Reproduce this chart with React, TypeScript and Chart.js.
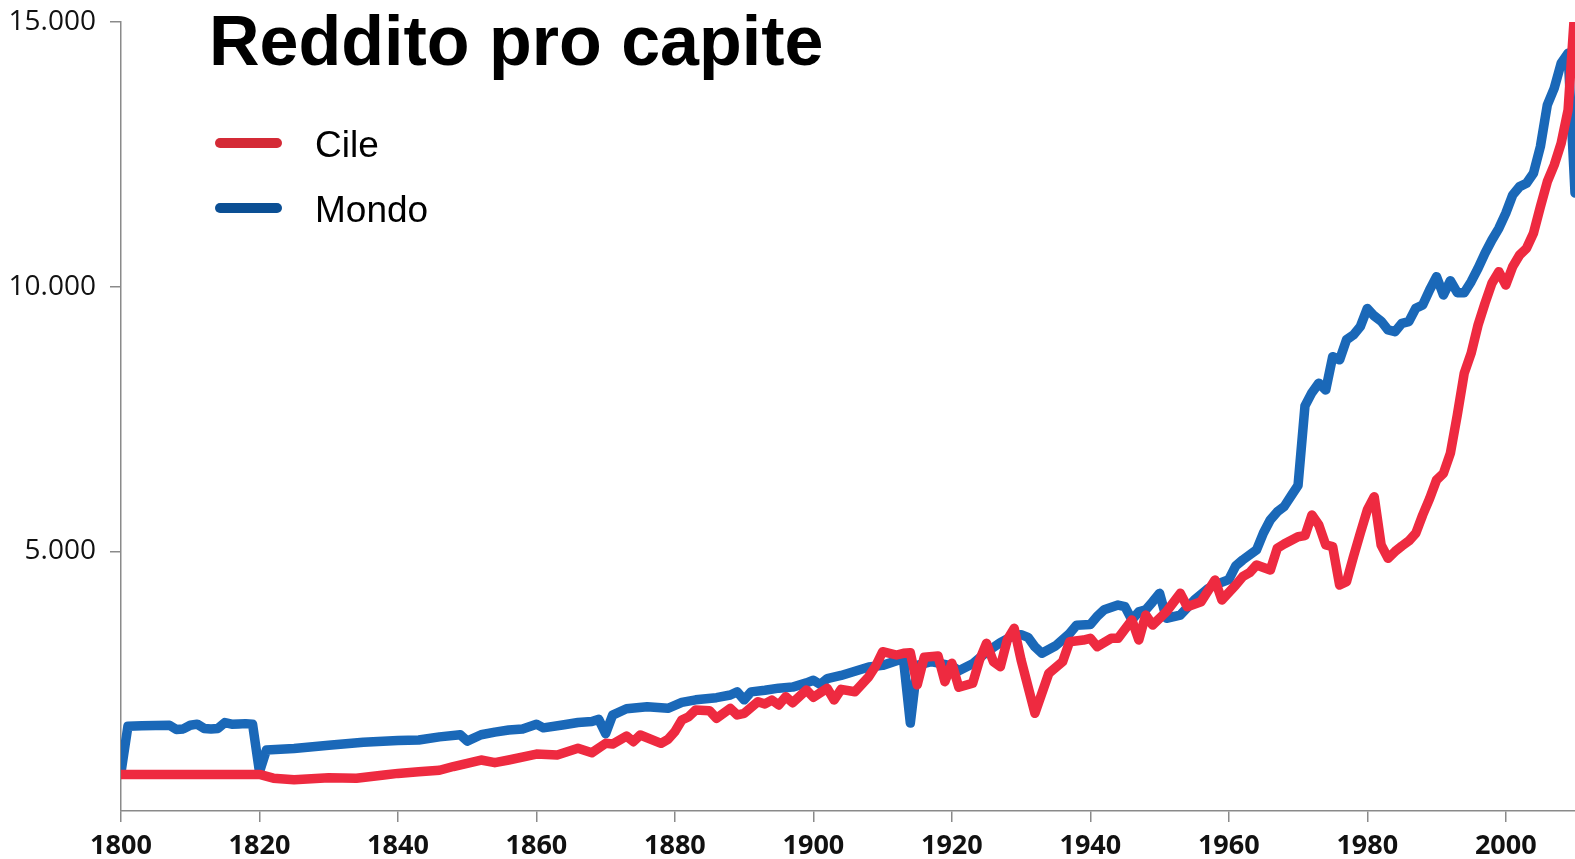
import React, { useEffect, useRef } from "react";
import { Chart, registerables } from "chart.js";

Chart.register(...registerables);

const TITLE = "Reddito pro capite";
const SERIES_NAMES = ["Cile", "Mondo"];

const X_TICKS = [1800, 1820, 1840, 1860, 1880, 1900, 1920, 1940, 1960, 1980, 2000];
const Y_TICKS = [5000, 10000, 15000];

const CILE_YEARS = [
  1800, 1820, 1822, 1825, 1830, 1834, 1838, 1840, 1843, 1846, 1848, 1852, 1854, 1856, 1860,
  1863, 1866, 1868, 1870, 1871, 1873, 1874, 1875, 1878, 1879, 1880, 1881, 1882, 1883, 1885,
  1886, 1888, 1889, 1890, 1892, 1893, 1894, 1895, 1896, 1897, 1899, 1900, 1902, 1903, 1904,
  1906, 1908, 1909, 1910, 1912, 1913, 1914, 1915, 1916, 1918, 1919, 1920, 1921, 1923, 1924,
  1925, 1926, 1927, 1928, 1929, 1930, 1932, 1934, 1936, 1937, 1939, 1940, 1941, 1943, 1944,
  1946, 1947, 1948, 1949, 1951, 1953, 1954, 1956, 1958, 1959, 1961, 1962, 1963, 1964, 1966,
  1967, 1968, 1970, 1971, 1972, 1973, 1974, 1975, 1976, 1977, 1978, 1979, 1980, 1981, 1982,
  1983, 1984, 1985, 1986, 1987, 1988, 1989, 1990, 1991, 1992, 1993, 1994, 1995, 1996, 1997,
  1998, 1999, 2000, 2001, 2002, 2003, 2004, 2005, 2006, 2007, 2008, 2009, 2010,
];
const CILE_VALUES = [
  790, 790, 720, 690, 730, 720, 780, 810, 840, 870, 940, 1063, 1012, 1063, 1176,
  1158, 1284, 1201, 1378, 1365, 1516, 1409, 1535, 1378, 1454, 1600, 1819, 1881, 2007, 1994,
  1851, 2039, 1913, 1945, 2164, 2121, 2196, 2102, 2259, 2145, 2385, 2247, 2417, 2196, 2398,
  2353, 2637, 2838, 3108, 3046, 3078, 3090, 2480, 3003, 3027, 2542, 2889, 2436, 2512, 2952,
  3267, 2920, 2825, 3329, 3550, 2952, 1945, 2700, 2920, 3297, 3329, 3361, 3203, 3361, 3361,
  3707, 3329, 3801, 3613, 3864, 4211, 3958, 4053, 4462, 4085, 4368, 4525, 4600, 4746, 4651,
  5061, 5142, 5280, 5300, 5690, 5501, 5124, 5093, 4368, 4430, 4900, 5350, 5784, 6036, 5124,
  4872, 5000, 5105, 5200, 5344, 5690, 6000, 6351, 6477, 6855, 7578, 8366, 8744, 9278, 9688,
  10066, 10285, 10034, 10380, 10600, 10726, 11010, 11512, 11985, 12300, 12710, 13338, 15300,
];

const MONDO_YEARS = [
  1800, 1801, 1803, 1805, 1807, 1808, 1809, 1810, 1811, 1812, 1813, 1814, 1815, 1816, 1817,
  1818, 1819, 1820, 1821, 1825, 1830, 1835, 1840, 1843, 1846, 1849, 1850, 1852, 1854, 1856,
  1858, 1860, 1861, 1864, 1866, 1868, 1869, 1870, 1871, 1873, 1876, 1879, 1881, 1883, 1886,
  1888, 1889, 1890, 1891, 1893, 1895, 1897, 1899, 1900, 1901, 1902, 1904, 1906, 1908, 1910,
  1913, 1914, 1915, 1917, 1920, 1921, 1923, 1925, 1927, 1929, 1930, 1931, 1932, 1933, 1935,
  1937, 1938, 1940, 1941, 1942, 1944, 1945, 1946, 1947, 1948, 1949, 1950, 1951, 1953, 1955,
  1957, 1958, 1960, 1961, 1962, 1964, 1965, 1966, 1967, 1968, 1969, 1970, 1971, 1972, 1973,
  1974, 1975, 1976, 1977, 1978, 1979, 1980, 1981, 1982, 1983, 1984, 1985, 1986, 1987, 1988,
  1989, 1990, 1991, 1992, 1993, 1994, 1995, 1996, 1997, 1998, 1999, 2000, 2001, 2002, 2003,
  2004, 2005, 2006, 2007, 2008, 2009, 2010,
];
const MONDO_VALUES = [
  830, 1700, 1710, 1715, 1720, 1640, 1650, 1720, 1740, 1660, 1650, 1660, 1770, 1740, 1745,
  1750, 1740, 840, 1250, 1280, 1340, 1400, 1430, 1440, 1500, 1540, 1420, 1540, 1590, 1630,
  1650, 1740, 1670, 1730, 1770, 1790, 1830, 1560, 1910, 2030, 2070, 2040, 2150, 2200, 2240,
  2290, 2350, 2200, 2350, 2380, 2420, 2440, 2520, 2570, 2490, 2600, 2660, 2740, 2820, 2850,
  2980, 1760, 2850, 2920, 2840, 2750, 2880, 3100, 3280, 3420, 3430, 3380, 3200, 3080, 3220,
  3450, 3610, 3620, 3780, 3900, 3990, 3960, 3710, 3860, 3900, 4050, 4210, 3740, 3800, 4080,
  4300, 4370, 4470, 4730, 4840, 5030, 5350, 5600, 5750, 5850, 6050, 6250, 7750, 8000, 8180,
  8050, 8680, 8620, 9000, 9090, 9250, 9590, 9450, 9350, 9184, 9152, 9310, 9342, 9593, 9656,
  9939, 10191, 9845, 10115, 9888, 9888, 10096, 10349, 10632, 10884, 11104, 11388, 11733, 11891, 11954,
  12143, 12646, 13433, 13748, 14220, 14409, 11770,
];

const CILE_COLOR = "#ee2a40";
const MONDO_COLOR = "#1a68b8";
const CILE_LEGEND = "#d42a36";
const MONDO_LEGEND = "#0b4f94";

function pts(xs: number[], ys: number[]) {
  return xs.map((x, i) => ({ x, y: ys[i] }));
}

function fmt(v: number) {
  return String(Math.round(v)).replace(/\B(?=(\d{3})+(?!\d))/g, ".");
}

const overlay = {
  id: "titleLegend",
  afterDraw(chart: any) {
    const ctx = chart.ctx;
    ctx.save();
    ctx.fillStyle = "#000";
    ctx.textBaseline = "alphabetic";
    ctx.textAlign = "left";
    ctx.font = "bold 70px 'Liberation Sans', Arial, sans-serif";
    ctx.fillText(TITLE, 209, 65);
    const legendColors = [CILE_LEGEND, MONDO_LEGEND];
    const rows = [143, 208];
    SERIES_NAMES.forEach((name, i) => {
      ctx.strokeStyle = legendColors[i];
      ctx.lineWidth = 10;
      ctx.lineCap = "round";
      ctx.beginPath();
      ctx.moveTo(220, rows[i]);
      ctx.lineTo(277, rows[i]);
      ctx.stroke();
      ctx.fillStyle = "#000";
      ctx.font = "37px 'Liberation Sans', Arial, sans-serif";
      ctx.fillText(name, 315, rows[i] + 13.5);
    });
    ctx.restore();
  },
};

export default function App() {
  const ref = useRef<HTMLCanvasElement | null>(null);
  useEffect(() => {
    if (!ref.current) return;
    const chart = new Chart(ref.current, {
      type: "line",
      data: {
        datasets: [
          {
            label: SERIES_NAMES[0],
            data: pts(CILE_YEARS, CILE_VALUES),
            borderColor: CILE_COLOR,
            backgroundColor: CILE_COLOR,
            borderWidth: 9.5,
            pointRadius: 0,
            tension: 0,
            borderJoinStyle: "round",
            borderCapStyle: "round",
          },
          {
            label: SERIES_NAMES[1],
            data: pts(MONDO_YEARS, MONDO_VALUES),
            borderColor: MONDO_COLOR,
            backgroundColor: MONDO_COLOR,
            borderWidth: 9.5,
            pointRadius: 0,
            tension: 0,
            borderJoinStyle: "round",
            borderCapStyle: "round",
          },
        ],
      },
      options: {
        animation: false,
        responsive: true,
        maintainAspectRatio: false,
        layout: { padding: { top: 22, right: 0, left: 0, bottom: 0 } },
        plugins: {
          legend: { display: false },
          title: { display: false },
          tooltip: { enabled: false },
        },
        scales: {
          x: {
            type: "linear",
            min: 1800,
            max: 2010,
            afterBuildTicks: (s: any) => {
              s.ticks = X_TICKS.map((v) => ({ value: v }));
            },
            afterFit: (s: any) => {
              s.height = 48;
              s.paddingLeft = 0;
              s.paddingRight = 0;
            },
            border: { display: true, color: "#8a8a8a", width: 1.5 },
            grid: { drawOnChartArea: false, drawTicks: true, tickLength: 11, color: "#8a8a8a", lineWidth: 1.5 },
            ticks: {
              padding: 8,
              color: "#111",
              maxRotation: 0,
              autoSkip: false,
              font: { family: "'Open Sans', sans-serif", size: 27, weight: "bold" },
              callback: (v: any) => String(v),
            },
          },
          y: {
            type: "linear",
            min: 100,
            max: 15000,
            afterBuildTicks: (s: any) => {
              s.ticks = Y_TICKS.map((v) => ({ value: v }));
            },
            afterFit: (s: any) => {
              s.width = 121;
              s.paddingTop = 0;
              s.paddingBottom = 0;
            },
            border: { display: true, color: "#8a8a8a", width: 1.5 },
            grid: { drawOnChartArea: false, drawTicks: true, tickLength: 11, color: "#8a8a8a", lineWidth: 1.5 },
            ticks: {
              padding: 14,
              color: "#111",
              font: { family: "'Open Sans', sans-serif", size: 28 },
              callback: (v: any) => fmt(Number(v)),
            },
          },
        },
      },
      plugins: [overlay],
    } as any);
    return () => chart.destroy();
  }, []);
  return (
    <div style={{ position: "absolute", left: 0, top: 0, width: 1575, height: 859 }}>
      <canvas ref={ref} />
    </div>
  );
}
